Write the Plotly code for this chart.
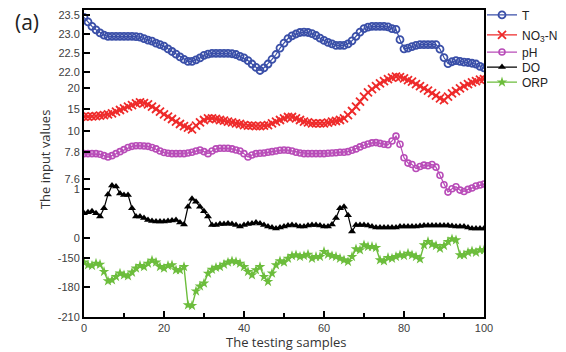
import plotly.graph_objects as go

# ---------------- data ----------------
samples = list(range(101))

T = [23.44, 23.32, 23.20, 23.11, 23.03, 22.97, 22.94, 22.94, 22.94, 22.94,
     22.94, 22.94, 22.94, 22.93, 22.92, 22.88, 22.84, 22.81, 22.76, 22.72,
     22.68, 22.61, 22.54, 22.47, 22.40, 22.33, 22.28, 22.28, 22.32, 22.37,
     22.44, 22.47, 22.49, 22.49, 22.49, 22.49, 22.49, 22.48, 22.46, 22.41,
     22.37, 22.30, 22.21, 22.12, 22.04, 22.11, 22.21, 22.33, 22.46, 22.63,
     22.76, 22.88, 22.95, 23.00, 23.04, 23.05, 23.04, 23.01, 22.96, 22.89,
     22.83, 22.78, 22.74, 22.70, 22.70, 22.70, 22.74, 22.82, 22.94, 23.05,
     23.14, 23.18, 23.20, 23.20, 23.20, 23.20, 23.19, 23.14, 23.12, 22.85,
     22.61, 22.63, 22.67, 22.70, 22.72, 22.72, 22.72, 22.72, 22.72, 22.60,
     22.38, 22.22, 22.27, 22.30, 22.28, 22.26, 22.25, 22.23, 22.21, 22.15,
     22.11]

NO3_N = [13.31, 13.31, 13.38, 13.46, 13.54, 13.69, 13.85, 14.08, 14.46, 14.85,
         15.23, 15.62, 16.00, 16.38, 16.62, 16.46, 16.15, 15.62, 15.08, 14.46,
         13.85, 13.31, 12.77, 12.15, 11.62, 11.15, 10.77, 10.38, 11.23, 12.00,
         12.54, 12.92, 12.92, 12.77, 12.54, 12.38, 12.15, 12.00, 11.77, 11.62,
         11.38, 11.23, 11.23, 11.15, 11.15, 11.23, 11.38, 11.77, 12.15, 12.54,
         12.92, 13.23, 13.23, 12.92, 12.54, 12.15, 12.00, 11.77, 11.77, 11.77,
         11.77, 11.92, 12.15, 12.31, 12.54, 12.92, 13.69, 14.62, 15.62, 16.77,
         17.92, 18.92, 19.69, 20.38, 21.00, 21.54, 22.00, 22.31, 22.54, 22.46,
         22.15, 21.77, 21.38, 20.85, 20.38, 19.85, 19.31, 18.77, 18.15, 17.54,
         17.15, 17.92, 18.69, 19.23, 19.85, 20.38, 20.85, 21.23, 21.54, 21.85,
         22.00]

pH = [7.790, 7.790, 7.790, 7.790, 7.785, 7.775, 7.765, 7.775, 7.790, 7.805,
      7.820, 7.835, 7.844, 7.849, 7.849, 7.847, 7.844, 7.835, 7.825, 7.810,
      7.798, 7.793, 7.790, 7.790, 7.790, 7.790, 7.795, 7.800, 7.810, 7.817,
      7.805, 7.790, 7.810, 7.825, 7.830, 7.830, 7.830, 7.825, 7.817, 7.810,
      7.790, 7.765, 7.780, 7.790, 7.793, 7.795, 7.800, 7.805, 7.810, 7.815,
      7.817, 7.815, 7.810, 7.800, 7.795, 7.790, 7.790, 7.790, 7.790, 7.790,
      7.790, 7.793, 7.795, 7.797, 7.800, 7.800, 7.805, 7.815, 7.825, 7.840,
      7.852, 7.862, 7.870, 7.872, 7.866, 7.860, 7.856, 7.884, 7.920, 7.860,
      7.760, 7.720, 7.710, 7.680, 7.695, 7.705, 7.700, 7.710, 7.690, 7.630,
      7.560, 7.505, 7.530, 7.545, 7.520, 7.510, 7.525, 7.535, 7.550, 7.558,
      7.565]

DO = [0.51, 0.53, 0.55, 0.51, 0.44, 0.61, 0.89, 1.07, 1.05, 0.91,
      0.88, 0.88, 0.61, 0.44, 0.44, 0.41, 0.37, 0.35, 0.34, 0.34,
      0.34, 0.35, 0.36, 0.37, 0.32, 0.28, 0.64, 0.80, 0.74, 0.64,
      0.55, 0.44, 0.27, 0.27, 0.29, 0.29, 0.30, 0.29, 0.27, 0.24,
      0.27, 0.29, 0.30, 0.32, 0.30, 0.27, 0.24, 0.22, 0.20, 0.22,
      0.24, 0.26, 0.27, 0.26, 0.24, 0.24, 0.26, 0.27, 0.27, 0.26,
      0.24, 0.24, 0.28, 0.41, 0.61, 0.64, 0.47, 0.14, 0.27, 0.27,
      0.27, 0.26, 0.24, 0.22, 0.22, 0.22, 0.22, 0.22, 0.22, 0.24,
      0.24, 0.24, 0.24, 0.24, 0.25, 0.26, 0.26, 0.26, 0.26, 0.26,
      0.26, 0.26, 0.25, 0.24, 0.24, 0.24, 0.22, 0.20, 0.20, 0.20,
      0.20]

ORP = [-154.7, -157.5, -158.1, -155.8, -156.8, -164.2, -173.7, -172.7, -169.3, -165.9,
       -167.6, -168.6, -164.9, -160.8, -158.1, -159.2, -155.8, -152.7, -154.7, -159.2,
       -160.8, -158.1, -157.5, -162.5, -162.5, -159.2, -198.1, -198.8, -184.0, -179.0,
       -176.0, -166.0, -162.0, -160.0, -159.2, -156.8, -154.7, -153.4, -154.1, -155.8,
       -159.2, -164.2, -167.6, -162.5, -159.2, -169.3, -174.4, -165.9, -157.5, -153.4,
       -154.7, -150.7, -148.0, -147.3, -149.0, -148.0, -146.6, -150.7, -149.0, -149.0,
       -143.9, -146.6, -148.0, -149.0, -150.7, -152.4, -154.1, -149.0, -141.2, -142.2,
       -137.1, -138.8, -138.8, -139.8, -152.4, -153.4, -150.0, -150.7, -149.0, -147.3,
       -148.0, -145.6, -147.3, -149.0, -151.4, -137.1, -133.7, -136.4, -137.8, -140.5,
       -137.8, -133.7, -131.0, -132.0, -147.3, -147.3, -144.6, -143.2, -144.6, -142.2,
       -142.2]

# tick labels of each broken-axis segment
T_ticks = [22.0, 22.5, 23.0, 23.5]
T_tick_text = ["22.0", "22.5", "23.0", "23.5"]
NO3_ticks = [10, 15, 20]
NO3_tick_text = ["10", "15", "20"]
pH_ticks = [7.6, 7.8]
pH_tick_text = ["7.6", "7.8"]
DO_ticks = [0, 1]
DO_tick_text = ["0", "1"]
ORP_ticks = [-210, -180, -150]
ORP_tick_text = ["-210", "-180", "-150"]

# ------------- broken y-axis scale (segment -> shared axis) -------------
# (value_a, pos_a, value_b, pos_b), pos measured on a shared 0..307 axis
SEG = {
    "T":   (22.0, 245.0, 23.5, 302.0),
    "NO3": (10.0, 186.0, 20.0, 229.3),
    "pH":  (7.6, 137.7, 7.8, 164.7),
    "DO":  (0.0, 78.7, 1.0, 128.0),
    "ORP": (-210.0, 0.3, -150.0, 59.3),
}


def scale(seg, vals):
    va, pa, vb, pb = SEG[seg]
    k = (pb - pa) / (vb - va)
    return [pa + (v - va) * k for v in vals]


fig = go.Figure()

fig.add_trace(go.Scatter(
    x=samples, y=scale("T", T), name="T", mode="lines+markers", legend="legend",
    line=dict(color="#3a4fa8", width=1.2),
    marker=dict(symbol="circle-open", size=7, color="#3a4fa8", line=dict(width=1.8))))
fig.add_trace(go.Scatter(
    x=samples, y=scale("NO3", NO3_N), name="NO<sub>3</sub>-N", mode="lines+markers", legend="legend2",
    line=dict(color="#ee2a2a", width=1.2),
    marker=dict(symbol="x-thin", size=8, color="#ee2a2a", line=dict(width=1.8, color="#ee2a2a"))))
fig.add_trace(go.Scatter(
    x=samples, y=scale("pH", pH), name="pH", mode="lines+markers", legend="legend3",
    line=dict(color="#b84cb8", width=1.2),
    marker=dict(symbol="circle-open", size=6, color="#b84cb8", line=dict(width=1.6))))
fig.add_trace(go.Scatter(
    x=samples, y=scale("DO", DO), name="DO", mode="lines+markers", legend="legend4",
    line=dict(color="#000000", width=1.2),
    marker=dict(symbol="triangle-up", size=7, color="#000000")))
fig.add_trace(go.Scatter(
    x=samples, y=scale("ORP", ORP), name="ORP", mode="lines+markers", legend="legend5",
    line=dict(color="#6cbd3c", width=1.4),
    marker=dict(symbol="star", size=8, color="#6cbd3c")))

tickvals = (scale("T", T_ticks) + scale("NO3", NO3_ticks) + scale("pH", pH_ticks)
            + scale("DO", DO_ticks) + scale("ORP", ORP_ticks))
ticktext = T_tick_text + NO3_tick_text + pH_tick_text + DO_tick_text + ORP_tick_text

tick_font = dict(family="Liberation Sans, Arial, sans-serif", size=11, color="#404040")
title_font = dict(family="Open Sans, sans-serif", size=13, color="#333333")
legend_font = dict(family="Liberation Sans, Arial, sans-serif", size=12, color="#222222")


def legend_at(y):
    return dict(x=0.995, y=y, xanchor="left", yanchor="middle", font=legend_font,
                bgcolor="rgba(0,0,0,0)", borderwidth=0)


fig.update_layout(
    width=566, height=352,
    margin=dict(l=84, r=82, t=10, b=35, autoexpand=False),
    paper_bgcolor="white", plot_bgcolor="white",
    showlegend=True,
    legend=legend_at(0.984),
    legend2=legend_at(0.919),
    legend3=legend_at(0.863),
    legend4=legend_at(0.814),
    legend5=legend_at(0.765),
    xaxis=dict(range=[0, 100], tickvals=[0, 20, 40, 60, 80, 100], automargin=False,
               ticks="inside", ticklen=6, tickwidth=1.5, tickcolor="#000",
               minor=dict(tickvals=[10, 30, 50, 70, 90], ticks="inside", ticklen=4,
                          tickwidth=1.5, tickcolor="#000"),
               showline=True, linecolor="#000", linewidth=2, mirror=True,
               showgrid=False, zeroline=False, tickfont=tick_font),
    yaxis=dict(range=[0, 307], tickvals=tickvals, ticktext=ticktext, automargin=False,
               ticks="inside", ticklen=6, tickwidth=1.5, tickcolor="#000",
               showline=True, linecolor="#000", linewidth=2, mirror=True,
               showgrid=False, zeroline=False, tickfont=tick_font),
    annotations=[
        dict(text="(a)", x=-0.1425, y=0.961, xref="paper", yref="paper",
             xanchor="center", yanchor="middle", showarrow=False,
             font=dict(family="Open Sans, sans-serif", size=21, color="#222222")),
        dict(text="The input values", x=-0.0975, y=0.511, xref="paper", yref="paper",
             xanchor="center", yanchor="middle", textangle=-90, showarrow=False,
             font=title_font),
        dict(text="The testing samples", x=0.505, y=-0.08, xref="paper", yref="paper",
             xanchor="center", yanchor="middle", showarrow=False, font=title_font),
    ],
)

fig.write_html("out.html", config={"displayModeBar": False},
               post_script="document.body.style.margin='0';document.body.style.padding='0';")
